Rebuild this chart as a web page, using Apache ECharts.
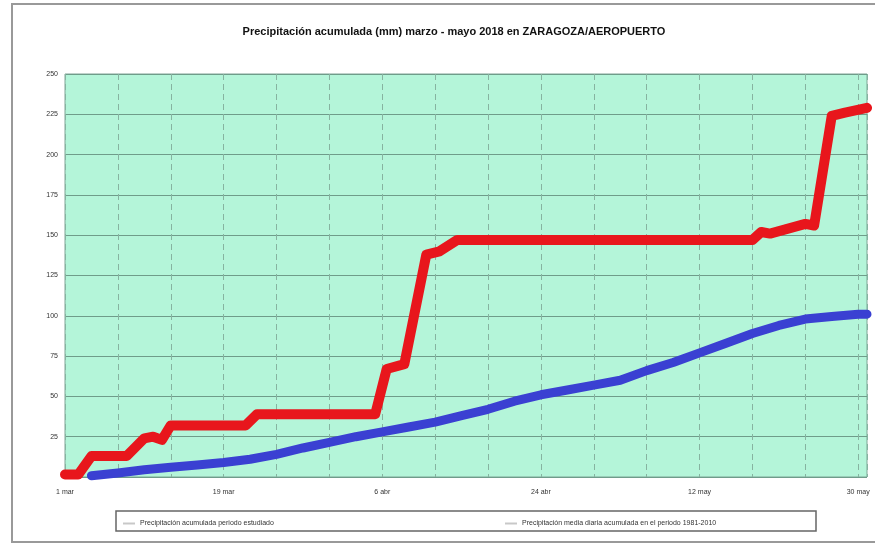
<!DOCTYPE html>
<html>
<head>
<meta charset="utf-8">
<script src="https://cdn.jsdelivr.net/npm/echarts@6/dist/echarts.min.js"></script>
<style>
  html, body { margin: 0; padding: 0; background: #fff; }
  #chart { width: 875px; height: 545px; }
</style>
</head>
<body>
<div id="chart"></div>
<script>
// days counted from 1 March 2018 (day 0)
var xLabels = { 0: '1 mar', 18: '19 mar', 36: '6 abr', 54: '24 abr', 72: '12 may', 90: '30 may' }

var estudiado = [
  [0, 1.5], [1.5, 1.5], [3, 13], [7, 13], [9, 24], [10, 25], [11, 23], [12, 32],
  [20.5, 32], [21.8, 39], [35.2, 39], [36.5, 67], [38.5, 70], [41, 138], [42.5, 140],
  [44.5, 147], [78, 147], [79, 152], [80, 151], [84, 157], [85, 156], [87, 224],
  [88.5, 226], [91, 229]
]

var media = [
  [3, 0.8], [6, 2.5], [9, 4.5], [12, 6], [15, 7.5], [18, 9], [21, 11], [24, 14],
  [27, 18], [30, 21.5], [33, 25], [36, 28], [39, 31], [42, 34], [45, 38], [48, 42],
  [51, 47], [54, 51], [57, 54], [60, 57], [63, 60], [66, 66], [69, 71], [72, 77],
  [75, 83], [78, 89], [81, 94], [84, 98], [87, 99.5], [90, 101], [91, 101]
]

var nombres = [
  'Precipitación acumulada periodo estudiado',
  'Precipitación media diaria acumulada en el periodo 1981-2010'
]

var chart = echarts.init(document.getElementById('chart'))
chart.setOption({
  animation: false,
  textStyle: { fontFamily: 'Liberation Sans, Arial, sans-serif' },
  title: {
    text: 'Precipitación acumulada (mm) marzo - mayo 2018 en ZARAGOZA/AEROPUERTO',
    left: 449,
    textAlign: 'center',
    top: 21,
    textStyle: { fontSize: 11, fontWeight: 'bold', color: '#111' }
  },
  graphic: [
    {
      type: 'rect',
      shape: { x: 12, y: 4, width: 880, height: 538 },
      style: { fill: null, stroke: '#999', lineWidth: 2 },
      silent: true
    },
    {
      type: 'rect',
      shape: { x: 116, y: 511, width: 700, height: 20 },
      style: { fill: null, stroke: '#666', lineWidth: 1.5 },
      silent: true
    }
  ],
  legend: [
    {
      data: [nombres[0]],
      left: 118,
      top: 515,
      itemWidth: 12,
      itemHeight: 2,
      icon: 'rect',
      itemStyle: { color: '#c8c8c8' },
      textStyle: { fontSize: 7, color: '#333' }
    },
    {
      data: [nombres[1]],
      left: 500,
      top: 515,
      itemWidth: 12,
      itemHeight: 2,
      icon: 'rect',
      itemStyle: { color: '#c8c8c8' },
      textStyle: { fontSize: 7, color: '#333' }
    }
  ],
  grid: {
    left: 65,
    right: 8,
    top: 74,
    bottom: 68,
    show: true,
    backgroundColor: '#b4f5d9',
    borderColor: '#7fa596',
    borderWidth: 1
  },
  xAxis: {
    type: 'value',
    min: 0,
    max: 91,
    interval: 6,
    axisLine: { show: false },
    axisTick: { show: false },
    axisLabel: {
      fontSize: 7,
      color: '#333',
      margin: 12,
      showMaxLabel: false,
      formatter: function (v) { return xLabels[v] || '' }
    },
    splitLine: { show: true, lineStyle: { color: '#86b3a0', type: [6, 4], width: 1 } }
  },
  yAxis: {
    type: 'value',
    min: 0,
    max: 250,
    interval: 25,
    axisLine: { show: false },
    axisTick: { show: false },
    axisLabel: {
      fontSize: 7,
      color: '#333',
      margin: 7,
      formatter: function (v) { return v === 0 ? '' : v }
    },
    splitLine: { show: true, lineStyle: { color: '#6f9c8a', width: 1 } }
  },
  series: [
    {
      name: nombres[0],
      type: 'line',
      data: estudiado,
      symbol: 'none',
      color: '#e8161c',
      lineStyle: { width: 10, cap: 'round', join: 'round' },
      z: 3
    },
    {
      name: nombres[1],
      type: 'line',
      data: media,
      symbol: 'none',
      color: '#3a40d2',
      lineStyle: { width: 9, cap: 'round', join: 'round' },
      z: 2
    }
  ]
})
</script>
</body>
</html>
